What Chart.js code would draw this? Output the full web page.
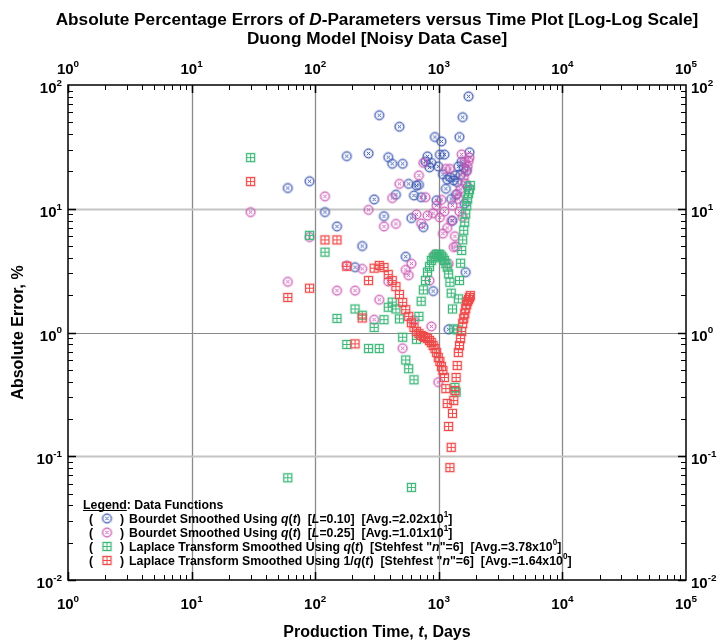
<!DOCTYPE html>
<html><head><meta charset="utf-8">
<script src="https://cdn.jsdelivr.net/npm/chart.js@4/dist/chart.umd.min.js"></script>
<style>html,body{margin:0;padding:0;background:#fff}canvas{display:block}</style>
</head><body>
<canvas id="c" width="717" height="642"></canvas>
<script>
// ---------------- DATA ----------------
const days = [30,60,90,120,150,180,210,240,270,300,330,360,390,420,450,480,510,540,570,600,
  630,660,690,720,750,780,810,840,870,900,930,960,990,1020,1050,1080,1110,1140,1170,1200,
  1230,1260,1290,1320,1350,1380,1410,1440,1470,1500,1530,1560,1590,1620,1650,1680,1710,1740,1770,1800];

const bourdetL010 = [null,14.7,16.7,9.4,7.2,26.6,3.37,5.0,28,11.9,57,8.7,26.1,23.1,13.0,46,23.1,4.1,15.9,8.4,
  12.8,15.4,15.6,12.4,7.1,24.0,26.5,21.6,23.5,2.16,38,11.7,22.0,27.4,35,19,27.4,14.5,17.2,1.06,
  18.0,12.0,8.0,16.9,18.6,13,16.4,22,38,18.8,24,55,21.3,11,3.07,20.5,15,81,28.6,null];

const bourdetL025 = [9.4,2.57,5.9,12.6,2.18,3.48,2.18,3.27,9.8,1.27,1.84,7.2,2.58,12.2,7.55,15.9,0.746,3.21,2.9,3.6,
  1.25,9.0,18.6,7.6,23.5,12.4,8.8,2.63,1.12,9.2,4.27,10.6,0.397,8.5,11.8,6.3,9.5,21,7.0,3.59,
  21,8.0,10.6,4.9,6.0,4.95,13.2,12.0,9.5,14.5,27.5,8.6,18,24,16,20,22,24.3,26,null];

const laplaceQ = [25.9,0.067,6.1,4.46,1.30,0.80,1.55,1.38,0.742,1.1,0.742,1.27,1.60,1.76,1.55,1.29,0.916,0.60,0.51,0.056,
  0.415,0.88,1.35,1.79,2.21,2.63,3.07,3.41,3.82,4.0,4.11,4.27,4.3,4.27,4.14,4.0,3.82,3.6,3.37,2.98,
  2.55,2.08,1.55,1.07,0.36,0.33,1.05,1.87,2.63,3.63,4.6,5.6,6.7,7.8,9.1,10.6,12.0,13.3,14.3,15.4];

const laplaceInvQ = [16.6,1.92,2.28,5.6,5.6,3.43,0.81,1.31,2.63,3.31,3.48,3.35,2.94,2.63,2.35,2.03,1.75,1.53,1.35,1.20,
  1.10,1.02,0.98,0.946,0.929,0.911,0.894,0.862,0.830,0.785,0.742,0.689,0.628,0.583,0.531,0.493,0.433,0.352,0.267,0.174,
  0.081,0.118,0.222,0.282,0.340,0.433,0.541,0.689,0.785,0.894,1.02,1.18,1.30,1.42,1.56,1.68,1.78,1.85,1.92,1.99];

const xTickExponents = [0,1,2,3,4,5];
const yTickExponents = [-2,-1,0,1,2];

const seriesNames = ['Bourdet Smoothed Using q(t)', 'Bourdet Smoothed Using q(t)',
  'Laplace Transform Smoothed Using q(t)', 'Laplace Transform Smoothed Using 1/q(t)'];
const seriesParams = ['[L=0.10]', '[L=0.25]', '[Stehfest "n"=6]', '[Stehfest "n"=6]'];
const seriesAvgMantissa = ['2.02', '1.01', '3.78', '1.64'];
const seriesAvgExponent = ['1', '1', '0', '0'];
const seriesColors = ['#3a56b0', '#c955b3', '#3db679', '#ee4a4a'];

// ---------------- MARKERS ----------------
function makeCircleX(color){
  const c=document.createElement('canvas'); c.width=c.height=13;
  const g=c.getContext('2d');
  g.globalAlpha=0.22; g.strokeStyle=color; g.lineWidth=2.6;
  g.beginPath(); g.arc(6.5,6.5,4.4,0,Math.PI*2); g.stroke();
  g.globalAlpha=1; g.lineWidth=1;
  g.beginPath(); g.arc(6.5,6.5,4.4,0,Math.PI*2); g.stroke();
  g.beginPath(); g.moveTo(4.8,4.8); g.lineTo(8.2,8.2); g.moveTo(8.2,4.8); g.lineTo(4.8,8.2); g.stroke();
  return c;
}
function makeSquarePlus(color){
  const c=document.createElement('canvas'); c.width=c.height=13;
  const g=c.getContext('2d');
  g.globalAlpha=0.22; g.strokeStyle=color; g.lineWidth=2.6;
  g.strokeRect(2.5,2.5,8,8);
  g.globalAlpha=1; g.lineWidth=1;
  g.strokeRect(2.5,2.5,8,8);
  g.beginPath(); g.moveTo(6.5,2.5); g.lineTo(6.5,10.5); g.moveTo(2.5,6.5); g.lineTo(10.5,6.5); g.stroke();
  return c;
}
const markers = [makeCircleX(seriesColors[0]), makeCircleX(seriesColors[1]),
  makeSquarePlus(seriesColors[2]), makeSquarePlus(seriesColors[3])];

function pts(arr){ const out=[]; days.forEach((d,i)=>{ if(arr[i]!=null) out.push({x:d,y:arr[i]}); }); return out; }

// ---------------- TEXT HELPERS ----------------
const NARROW = '"Liberation Sans Narrow", "Arial Narrow", "Liberation Sans", Arial, sans-serif';
const SANS = '"Liberation Sans", Arial, sans-serif';
function fontOf(s,size,fam){ const sz = s.sup ? size*0.66 : size; return (s.i?'italic ':'')+'bold '+sz.toFixed(2)+'px '+fam; }
function segWidth(ctx,segs,size,fam){ let w=0; for(const s of segs){ ctx.font=fontOf(s,size,fam); w+=ctx.measureText(s.t).width; } return w; }
function drawSegs(ctx,segs,x,y,size,fam){
  for(const s of segs){ ctx.font=fontOf(s,size,fam); const dy=s.sup?-size*0.48:0; ctx.fillText(s.t,x,y+dy); x+=ctx.measureText(s.t).width; }
  return x;
}
function italicize(str){ // split "q(t)", "L", "n" into italic segments
  const segs=[]; let buf='';
  for(let k=0;k<str.length;k++){
    const ch=str[k];
    const isItal = (ch==='q' && str[k+1]==='(') || (ch==='t' && str[k-1]==='(' && str[k+1]===')') ||
                   (ch==='L' && str[k+1]==='=') || (ch==='n' && str[k-1]==='"' && str[k+1]==='"');
    if(isItal){ if(buf) segs.push({t:buf}); buf=''; segs.push({t:ch,i:1}); } else buf+=ch;
  }
  if(buf) segs.push({t:buf});
  return segs;
}

const deco = {
  id:'deco',
  beforeDatasetsDraw(chart){
    const {ctx, chartArea:a, scales:{x,y}} = chart;
    ctx.save();
    xTickExponents.forEach(e=>{
      const px=Math.round(x.getPixelForValue(Math.pow(10,e)))+0.5;
      if(px<=a.left+1||px>=a.right-1) return;
      ctx.strokeStyle='#8a8a8a'; ctx.lineWidth=1.3;
      ctx.beginPath(); ctx.moveTo(px,a.top); ctx.lineTo(px,a.bottom); ctx.stroke();
    });
    yTickExponents.forEach(e=>{
      const py=Math.round(y.getPixelForValue(Math.pow(10,e)))+0.5;
      if(py<=a.top+1||py>=a.bottom-1) return;
      if(e===0){ ctx.strokeStyle='#8a8a8a'; ctx.lineWidth=1.2; }
      else { ctx.strokeStyle='#c4c4c4'; ctx.lineWidth=2; }
      ctx.beginPath(); ctx.moveTo(a.left,py); ctx.lineTo(a.right,py); ctx.stroke();
    });
    ctx.restore();
  },
  afterDraw(chart){
    const {ctx, chartArea:a, scales:{x,y}} = chart;
    ctx.save();
    // frame
    ctx.strokeStyle='#000'; ctx.lineWidth=1.5;
    ctx.strokeRect(a.left,a.top,a.right-a.left,a.bottom-a.top);
    // ticks
    ctx.lineWidth=1;
    const xmin=xTickExponents[0], xmax=xTickExponents[xTickExponents.length-1];
    for(let e=xmin;e<xmax;e++){
      for(let m=1;m<=9;m++){
        const v=m*Math.pow(10,e); const px=Math.round(x.getPixelForValue(v))+0.5;
        const len = m===1?8:5; ctx.lineWidth = m===1?1.5:1;
        ctx.beginPath(); ctx.moveTo(px,a.bottom); ctx.lineTo(px,a.bottom-len);
        ctx.moveTo(px,a.top); ctx.lineTo(px,a.top+len); ctx.stroke();
      }
    }
    const ymin=yTickExponents[0], ymax=yTickExponents[yTickExponents.length-1];
    for(let e=ymin;e<ymax;e++){
      for(let m=1;m<=9;m++){
        const v=m*Math.pow(10,e); const py=Math.round(y.getPixelForValue(v))+0.5;
        const len = m===1?8:5; ctx.lineWidth = m===1?1.5:1;
        ctx.beginPath(); ctx.moveTo(a.left,py); ctx.lineTo(a.left+len,py);
        ctx.moveTo(a.right,py); ctx.lineTo(a.right-len,py); ctx.stroke();
      }
    }
    // tick labels
    ctx.fillStyle='#000'; ctx.textBaseline='alphabetic';
    const TS=15;
    xTickExponents.forEach(e=>{
      const segs=[{t:'10'},{t:String(e),sup:1}];
      const w=segWidth(ctx,segs,TS,NARROW);
      const px=x.getPixelForValue(Math.pow(10,e));
      drawSegs(ctx,segs,px-w/2,74,TS,NARROW);
      drawSegs(ctx,segs,px-w/2,609,TS,NARROW);
    });
    yTickExponents.forEach(e=>{
      const segs=[{t:'10'},{t:String(e),sup:1}];
      const w=segWidth(ctx,segs,TS,NARROW);
      const py=y.getPixelForValue(Math.pow(10,e));
      drawSegs(ctx,segs,a.left-6-w,py+8,TS,NARROW);
      drawSegs(ctx,segs,a.right+5,py+8,TS,NARROW);
    });
    // title
    const t1=[{t:'Absolute Percentage Errors of '},{t:'D',i:1},{t:'-Parameters versus Time Plot [Log-Log Scale]'}];
    const t2=[{t:'Duong Model [Noisy Data Case]'}];
    let ts=18; ts = ts*643/segWidth(ctx,t1,ts,NARROW);
    const cx=(a.left+a.right)/2;
    drawSegs(ctx,t1,cx-segWidth(ctx,t1,ts,NARROW)/2,25,ts,NARROW);
    drawSegs(ctx,t2,cx-segWidth(ctx,t2,ts,NARROW)/2,44,ts,NARROW);
    // axis titles
    const xt=[{t:'Production Time, '},{t:'t',i:1},{t:', Days'}];
    const AS=16;
    drawSegs(ctx,xt,cx-segWidth(ctx,xt,AS,NARROW)/2,637,AS,NARROW);
    const yt=[{t:'Absolute Error, %'}];
    ctx.save(); ctx.translate(23,(a.top+a.bottom)/2); ctx.rotate(-Math.PI/2);
    drawSegs(ctx,yt,-segWidth(ctx,yt,AS,NARROW)/2,0,AS,NARROW);
    ctx.restore();
    // legend
    const lines = seriesNames.map((n,i)=>italicize(n+'  '+seriesParams[i]+'  [Avg.='+seriesAvgMantissa[i]+'x10')
      .concat([{t:seriesAvgExponent[i],sup:1},{t:']'}]));
    let LS=12.5; LS = LS*443/segWidth(ctx,lines[3],LS,SANS);
    const hdr1=[{t:'Legend'}], hdr2=[{t:': Data Functions'}];
    let hx=drawSegs(ctx,hdr1,83,509,LS,SANS);
    ctx.lineWidth=1; ctx.strokeStyle='#000';
    ctx.beginPath(); ctx.moveTo(83,510.5); ctx.lineTo(hx,510.5); ctx.stroke();
    drawSegs(ctx,hdr2,hx,509,LS,SANS);
    const baseY=[523,537,551,565];
    lines.forEach((segs,i)=>{
      drawSegs(ctx,[{t:'('}],89,baseY[i],LS,SANS);
      const mk=markers[i];
      ctx.drawImage(mk,107-mk.width/2,baseY[i]-4.5-mk.height/2);
      drawSegs(ctx,[{t:')'}],120,baseY[i],LS,SANS);
      drawSegs(ctx,segs,129,baseY[i],LS,SANS);
    });
    ctx.restore();
  }
};

const datasets = [
  {label:seriesNames[0], data:pts(bourdetL010), pointStyle:markers[0], order:3},
  {label:seriesNames[1], data:pts(bourdetL025), pointStyle:markers[1], order:2},
  {label:seriesNames[2], data:pts(laplaceQ), pointStyle:markers[2], order:1},
  {label:seriesNames[3], data:pts(laplaceInvQ), pointStyle:markers[3], order:0}
].map((d,i)=>Object.assign(d,{showLine:false, pointRadius:5, pointHoverRadius:5,
  borderColor:seriesColors[i], backgroundColor:seriesColors[i]}));

new Chart(document.getElementById('c').getContext('2d'), {
  type:'scatter',
  data:{datasets},
  options:{
    responsive:false, animation:false, devicePixelRatio:1,
    layout:{padding:{left:68,right:31,top:85,bottom:62}},
    plugins:{legend:{display:false},title:{display:false},tooltip:{enabled:false}},
    scales:{
      x:{type:'logarithmic', display:false, min:Math.pow(10,xTickExponents[0]), max:Math.pow(10,xTickExponents[xTickExponents.length-1])},
      y:{type:'logarithmic', display:false, min:Math.pow(10,yTickExponents[0]), max:Math.pow(10,yTickExponents[yTickExponents.length-1])}
    }
  },
  plugins:[deco]
});
</script>
</body></html>
